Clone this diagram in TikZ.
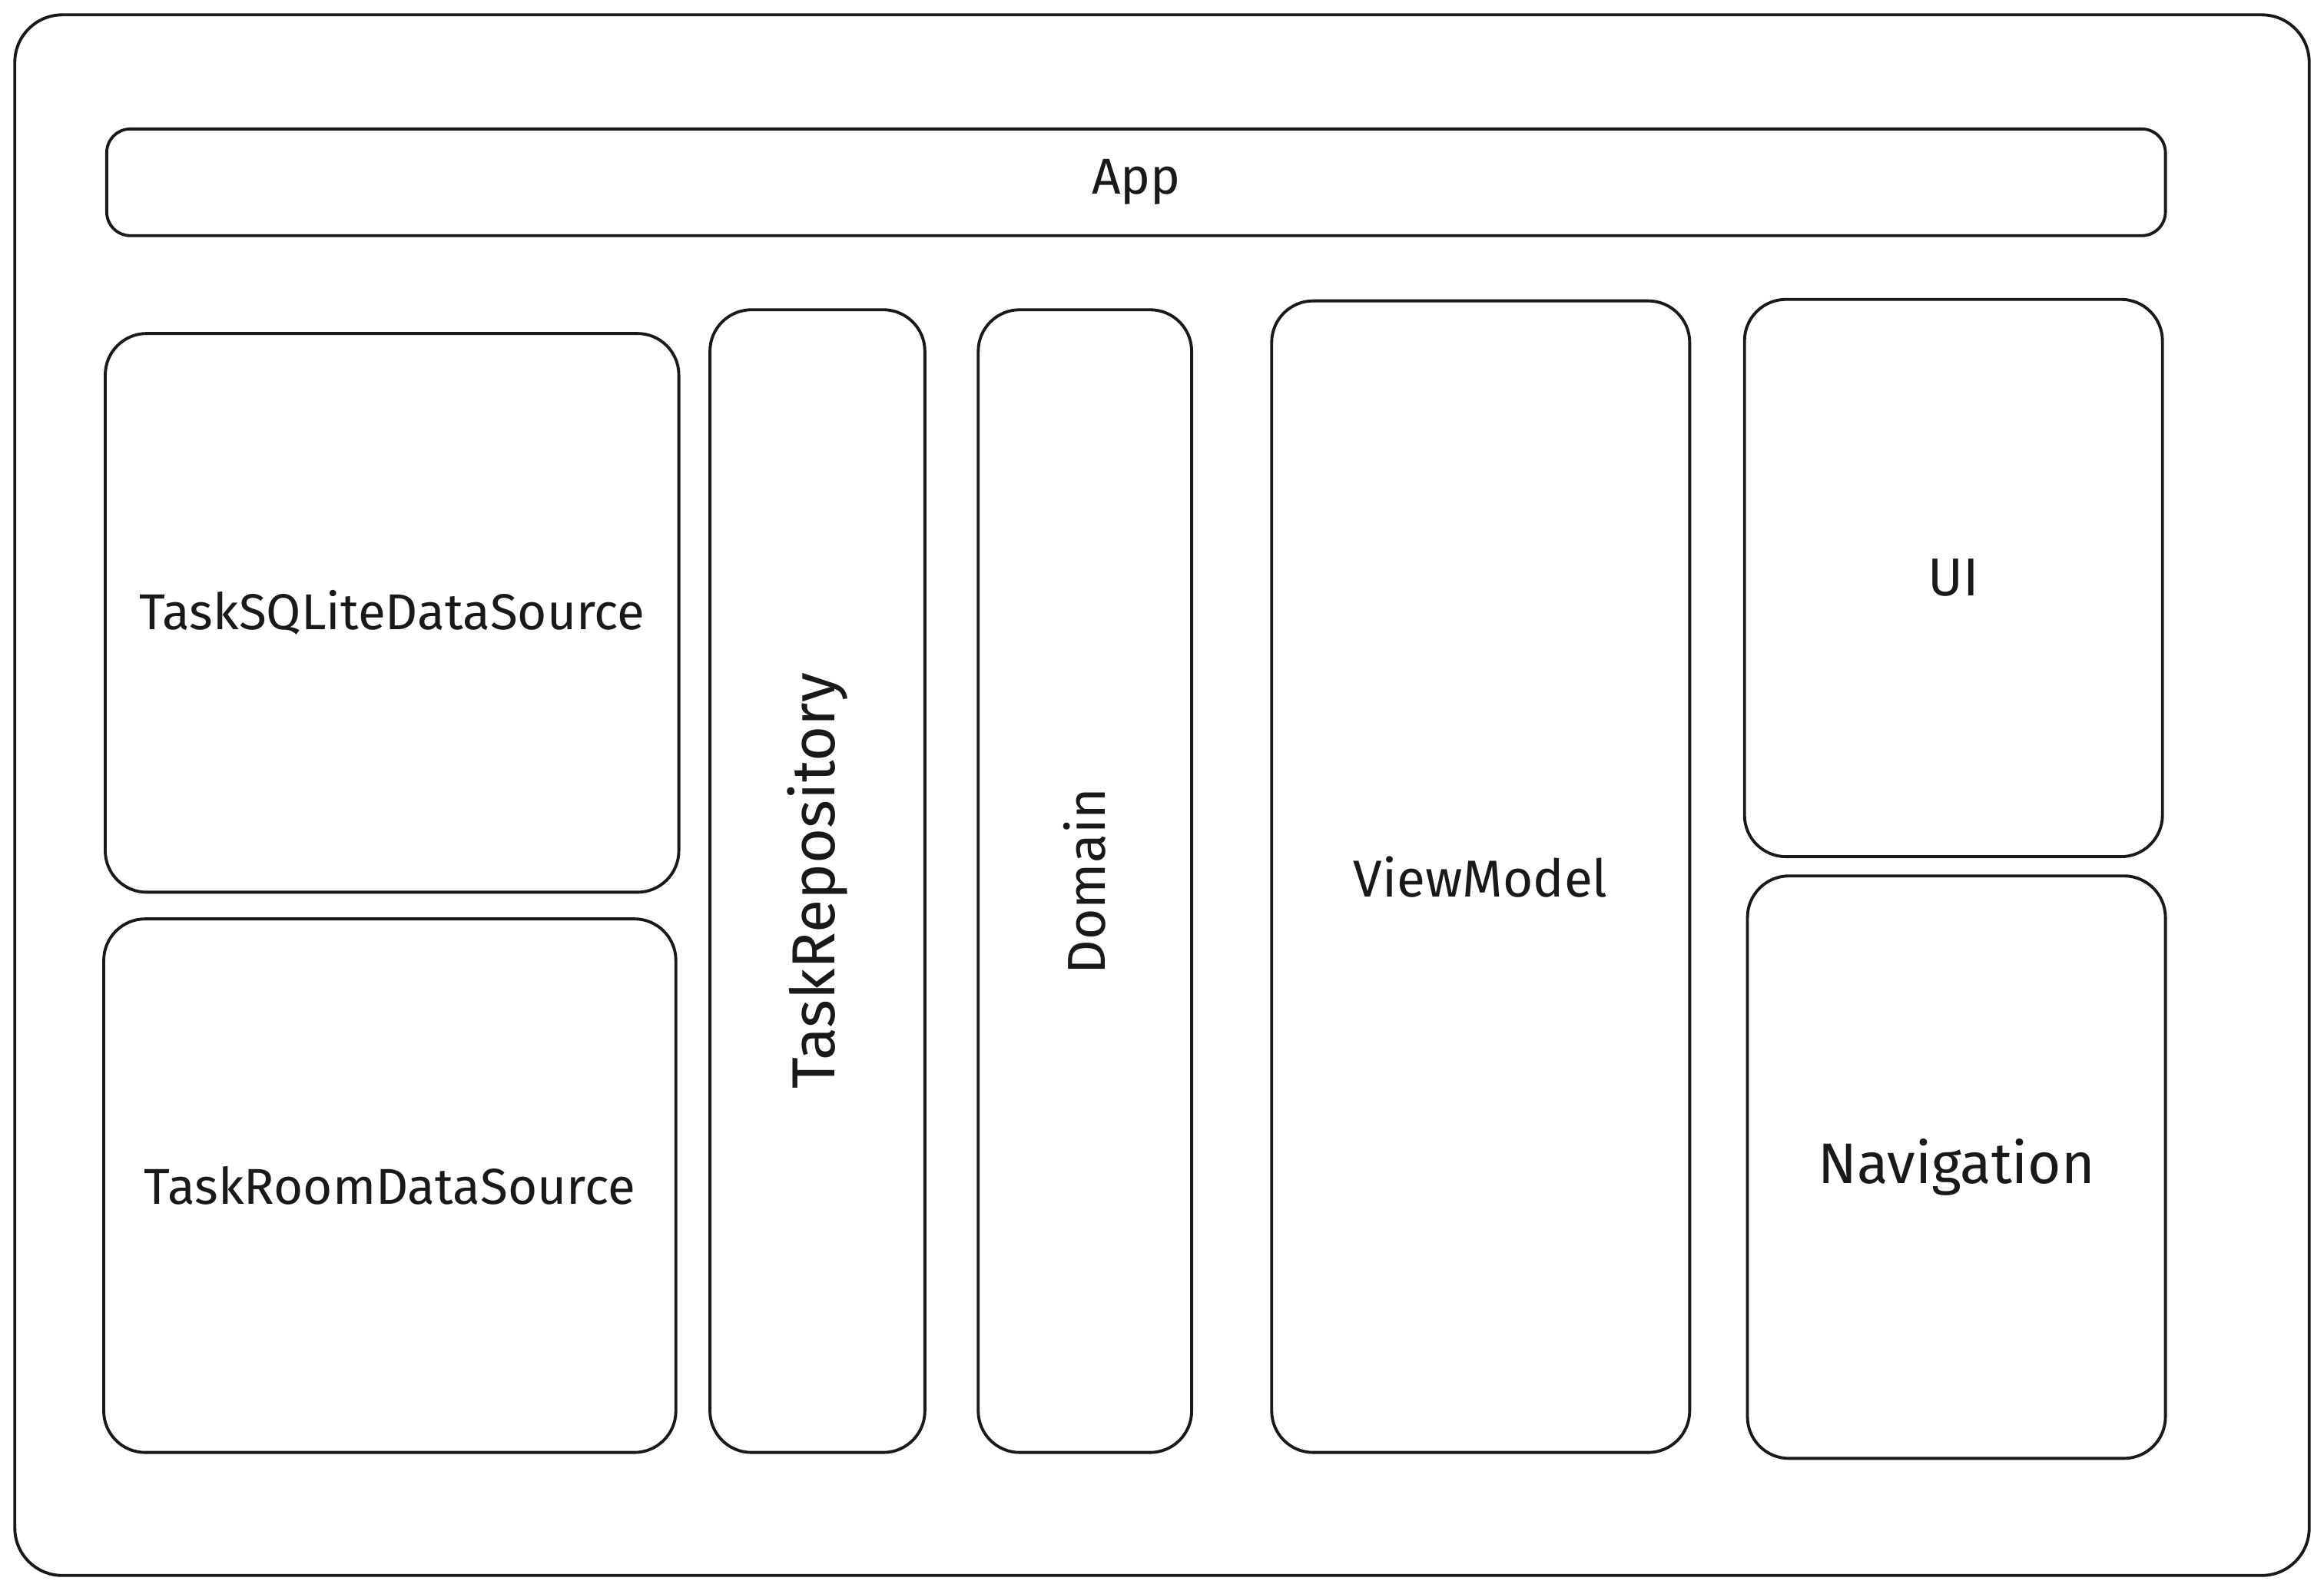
\documentclass[tikz,border=0pt]{standalone}
\usepackage{fontspec}
\setmainfont{Fira Sans}
\newcommand{\fsz}[1]{\fontsize{#1}{#1}\selectfont}
\begin{document}
\begin{tikzpicture}[x=0.5pt,y=-0.5pt,
  box/.style={draw=black!90, line width=1pt, rounded corners=14pt, fill=white},
  lbl/.style={font=\fsz{17}, text=black!90}]
\useasboundingbox[fill=white] (0,0) rectangle (1568,1073);
\draw[box, rounded corners=16pt] (10,10) rectangle (1558,1063);
\node[box, rounded corners=8pt, minimum width=694.5pt, minimum height=36pt] (app) at (766.5,123) {};
\node[lbl] at (app.center) {App};
\node[box, minimum width=193.5pt, minimum height=188.5pt] (sql) at (264.5,413.5) {};
\node[lbl, font=\fsz{17}] at (sql.center) {TaskSQLiteDataSource};
\node[box, minimum width=193pt, minimum height=180pt] (room) at (263,800) {};
\node[lbl, font=\fsz{17}] at (room.center) {TaskRoomDataSource};
\node[box, minimum width=72.5pt, minimum height=385.5pt] (repo) at (551.5,594.5) {};
\node[lbl, rotate=90, font=\fsz{20.5}] at (repo.center) {TaskRepository};
\node[box, minimum width=72pt, minimum height=385.5pt] (dom) at (732,594.5) {};
\node[lbl, rotate=90, font=\fsz{18}] at (dom.center) {Domain};
\node[box, minimum width=141pt, minimum height=388.5pt] (vm) at (999,591.5) {};
\node[lbl, font=\fsz{17.5}] at (vm.center) {ViewModel};
\node[box, minimum width=141pt, minimum height=188pt] (ui) at (1318,390) {};
\node[lbl, font=\fsz{18}] at (ui.center) {UI};
\node[box, minimum width=141pt, minimum height=196.5pt] (nav) at (1320,787.5) {};
\node[lbl, font=\fsz{19.3}] at (nav.center) {Navigation};
\end{tikzpicture}
\end{document}
